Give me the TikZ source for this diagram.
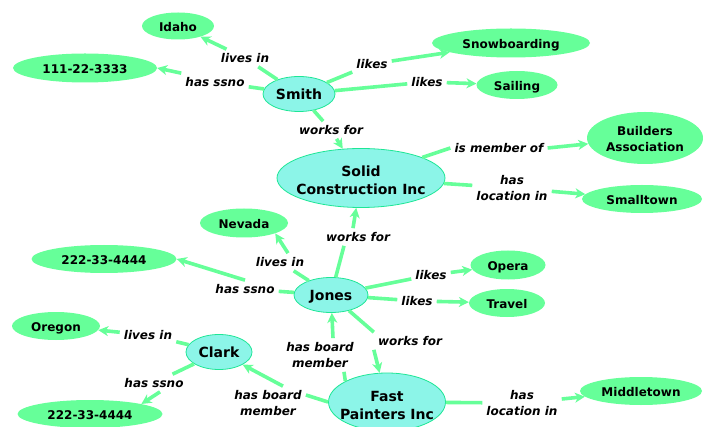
\documentclass[tikz,border=0pt]{standalone}
\usepackage{fontspec}
\setmainfont{DejaVu Sans}[BoldFont={DejaVu Sans Bold},ItalicFont={DejaVu Sans Oblique},BoldItalicFont={DejaVu Sans Bold Oblique}]
\usetikzlibrary{arrows.meta,shapes.geometric}

\definecolor{leafgreen}{RGB}{102,255,153}
\definecolor{aquafill}{RGB}{140,245,232}
\definecolor{aquaedge}{RGB}{30,230,150}

% centred text that does not enlarge the ellipse around it
\newcommand\ctr[2][5.5pt]{\hbox to 0pt{\hss\raisebox{-#1}[0pt][0pt]{\begin{tabular}{@{}c@{}}#2\end{tabular}}\hss}}

\tikzset{
  leaf/.style={ellipse, fill=leafgreen, inner sep=0pt,
    font=\fontsize{12}{16}\selectfont\bfseries},
  hub/.style={ellipse, fill=aquafill, draw=aquaedge, line width=0.8pt, inner sep=0pt,
    font=\fontsize{14}{18}\selectfont\bfseries},
  rel/.style={inner sep=4pt, align=center,
    font=\fontsize{12}{16}\selectfont\bfseries\itshape},
  link/.style={draw=leafgreen, line width=3.6pt},
  arrowlink/.style={link, -{Stealth[length=10pt,width=10pt,inset=3pt]}},
}

\begin{document}
\begin{tikzpicture}[x=1pt,y=-1pt]
\useasboundingbox (0,0) rectangle (703,427);

% concepts
\node[hub,  minimum width=72pt,  minimum height=35pt] (smith)     at (299,94)  {\ctr{Smith}};
\node[leaf, minimum width=72pt,  minimum height=27pt] (idaho)     at (178,26)  {\ctr{Idaho}};
\node[leaf, minimum width=144pt, minimum height=29pt] (ssnA)      at (85,68)   {\ctr{111-22-3333}};
\node[leaf, minimum width=158pt, minimum height=29pt] (snow)      at (511,43)  {\ctr{Snowboarding}};
\node[leaf, minimum width=81pt,  minimum height=28pt] (sail)      at (517,85)  {\ctr{Sailing}};
\node[leaf, minimum width=116pt, minimum height=52pt] (builders)  at (645,138) {\ctr[5pt]{Builders\\Association}};
\node[hub,  minimum width=168pt, minimum height=59pt] (solid)     at (361,178) {\ctr[8pt]{Solid\\Construction Inc}};
\node[leaf, minimum width=120pt, minimum height=28pt] (smalltown) at (642,199) {\ctr{Smalltown}};
\node[leaf, minimum width=88pt,  minimum height=29pt] (nevada)    at (244,223) {\ctr{Nevada}};
\node[leaf, minimum width=145pt, minimum height=28pt] (ssnB)      at (104,259) {\ctr{222-33-4444}};
\node[hub,  minimum width=74pt,  minimum height=35pt] (jones)     at (331,295) {\ctr{Jones}};
\node[leaf, minimum width=75pt,  minimum height=29pt] (opera)     at (508,265) {\ctr{Opera}};
\node[leaf, minimum width=76pt,  minimum height=28pt] (travel)    at (507,303) {\ctr{Travel}};
\node[leaf, minimum width=88pt,  minimum height=28pt] (oregon)    at (56,326)  {\ctr{Oregon}};
\node[hub,  minimum width=66pt,  minimum height=35pt] (clark)     at (219,352) {\ctr{Clark}};
\node[leaf, minimum width=145pt, minimum height=28pt] (ssnC)      at (90,414)  {\ctr{222-33-4444}};
\node[hub,  minimum width=117pt, minimum height=58pt] (fast)      at (387,402) {\ctr[8pt]{Fast\\Painters Inc}};
\node[leaf, minimum width=122pt, minimum height=28pt] (middle)    at (641,391) {\ctr{Middletown}};

% linking phrases
\node[rel] (l1)  at (245,58)  {lives in};
\node[rel] (l2)  at (215,82)  {has ssno};
\node[rel] (l3)  at (372,64)  {likes};
\node[rel] (l4)  at (427,82)  {likes};
\node[rel] (l5)  at (331,130) {works for};
\node[rel] (l6)  at (499,148) {is member of};
\node[rel] (l7)  at (512,188) {has\\location in};
\node[rel] (l8)  at (358,237) {works for};
\node[rel] (l9)  at (280,262) {lives in};
\node[rel] (l10) at (245,289) {has ssno};
\node[rel] (l11) at (431,275) {likes};
\node[rel] (l12) at (417,301) {likes};
\node[rel] (l13) at (410,341) {works for};
\node[rel] (l14) at (320,355) {has board\\member};
\node[rel] (l15) at (268,403) {has board\\member};
\node[rel] (l16) at (148,335) {lives in};
\node[rel] (l17) at (154,383) {has ssno};
\node[rel] (l18) at (522,403) {has\\location in};

% propositions
\draw[link] (smith) -- (l1);  \draw[arrowlink] (l1) -- (idaho);
\draw[link] (smith) -- (l2);  \draw[arrowlink] (l2.north west) -- (ssnA.east);
\draw[link] (smith) -- (l3);  \draw[arrowlink] (l3) -- (snow);
\draw[link] (smith) -- (l4);  \draw[arrowlink] (l4) -- (sail);
\draw[link] (smith) -- (l5);  \draw[arrowlink] (l5) -- (solid);
\draw[link] (solid) -- (l6.west); \draw[arrowlink] (l6.east) -- (builders);
\draw[link] (solid) -- (l7);  \draw[arrowlink] (l7) -- (smalltown);
\draw[link] (jones) -- ([xshift=-14pt]l8.south); \draw[arrowlink] ([xshift=-5pt]l8.north) -- (solid);
\draw[link] (jones) -- (l9);  \draw[arrowlink] ([xshift=8pt]l9.north) -- (nevada.south east);
\draw[link] (jones) -- (l10); \draw[arrowlink] (l10.north) -- (ssnB.east);
\draw[link] (jones) -- (l11); \draw[arrowlink] (l11) -- (opera);
\draw[link] (jones) -- (l12); \draw[arrowlink] (l12) -- (travel);
\draw[link] (jones) -- (l13.north west); \draw[arrowlink] (l13.south west) -- (fast);
\draw[link] (fast.north west) -- ([xshift=24pt]l14.south); \draw[arrowlink] ([xshift=13pt]l14.north) -- (jones);
\draw[link] (fast.west) -- ([yshift=8pt]l15.east); \draw[arrowlink] ([xshift=15pt]l15.north) -- (clark);
\draw[link] (clark) -- (l16); \draw[arrowlink] (l16) -- (oregon);
\draw[link] (clark) -- (l17); \draw[arrowlink] ([xshift=6pt]l17.south) -- (ssnC.north east);
\draw[link] (fast) -- (l18);  \draw[arrowlink] (l18) -- (middle);
\end{tikzpicture}
\end{document}
